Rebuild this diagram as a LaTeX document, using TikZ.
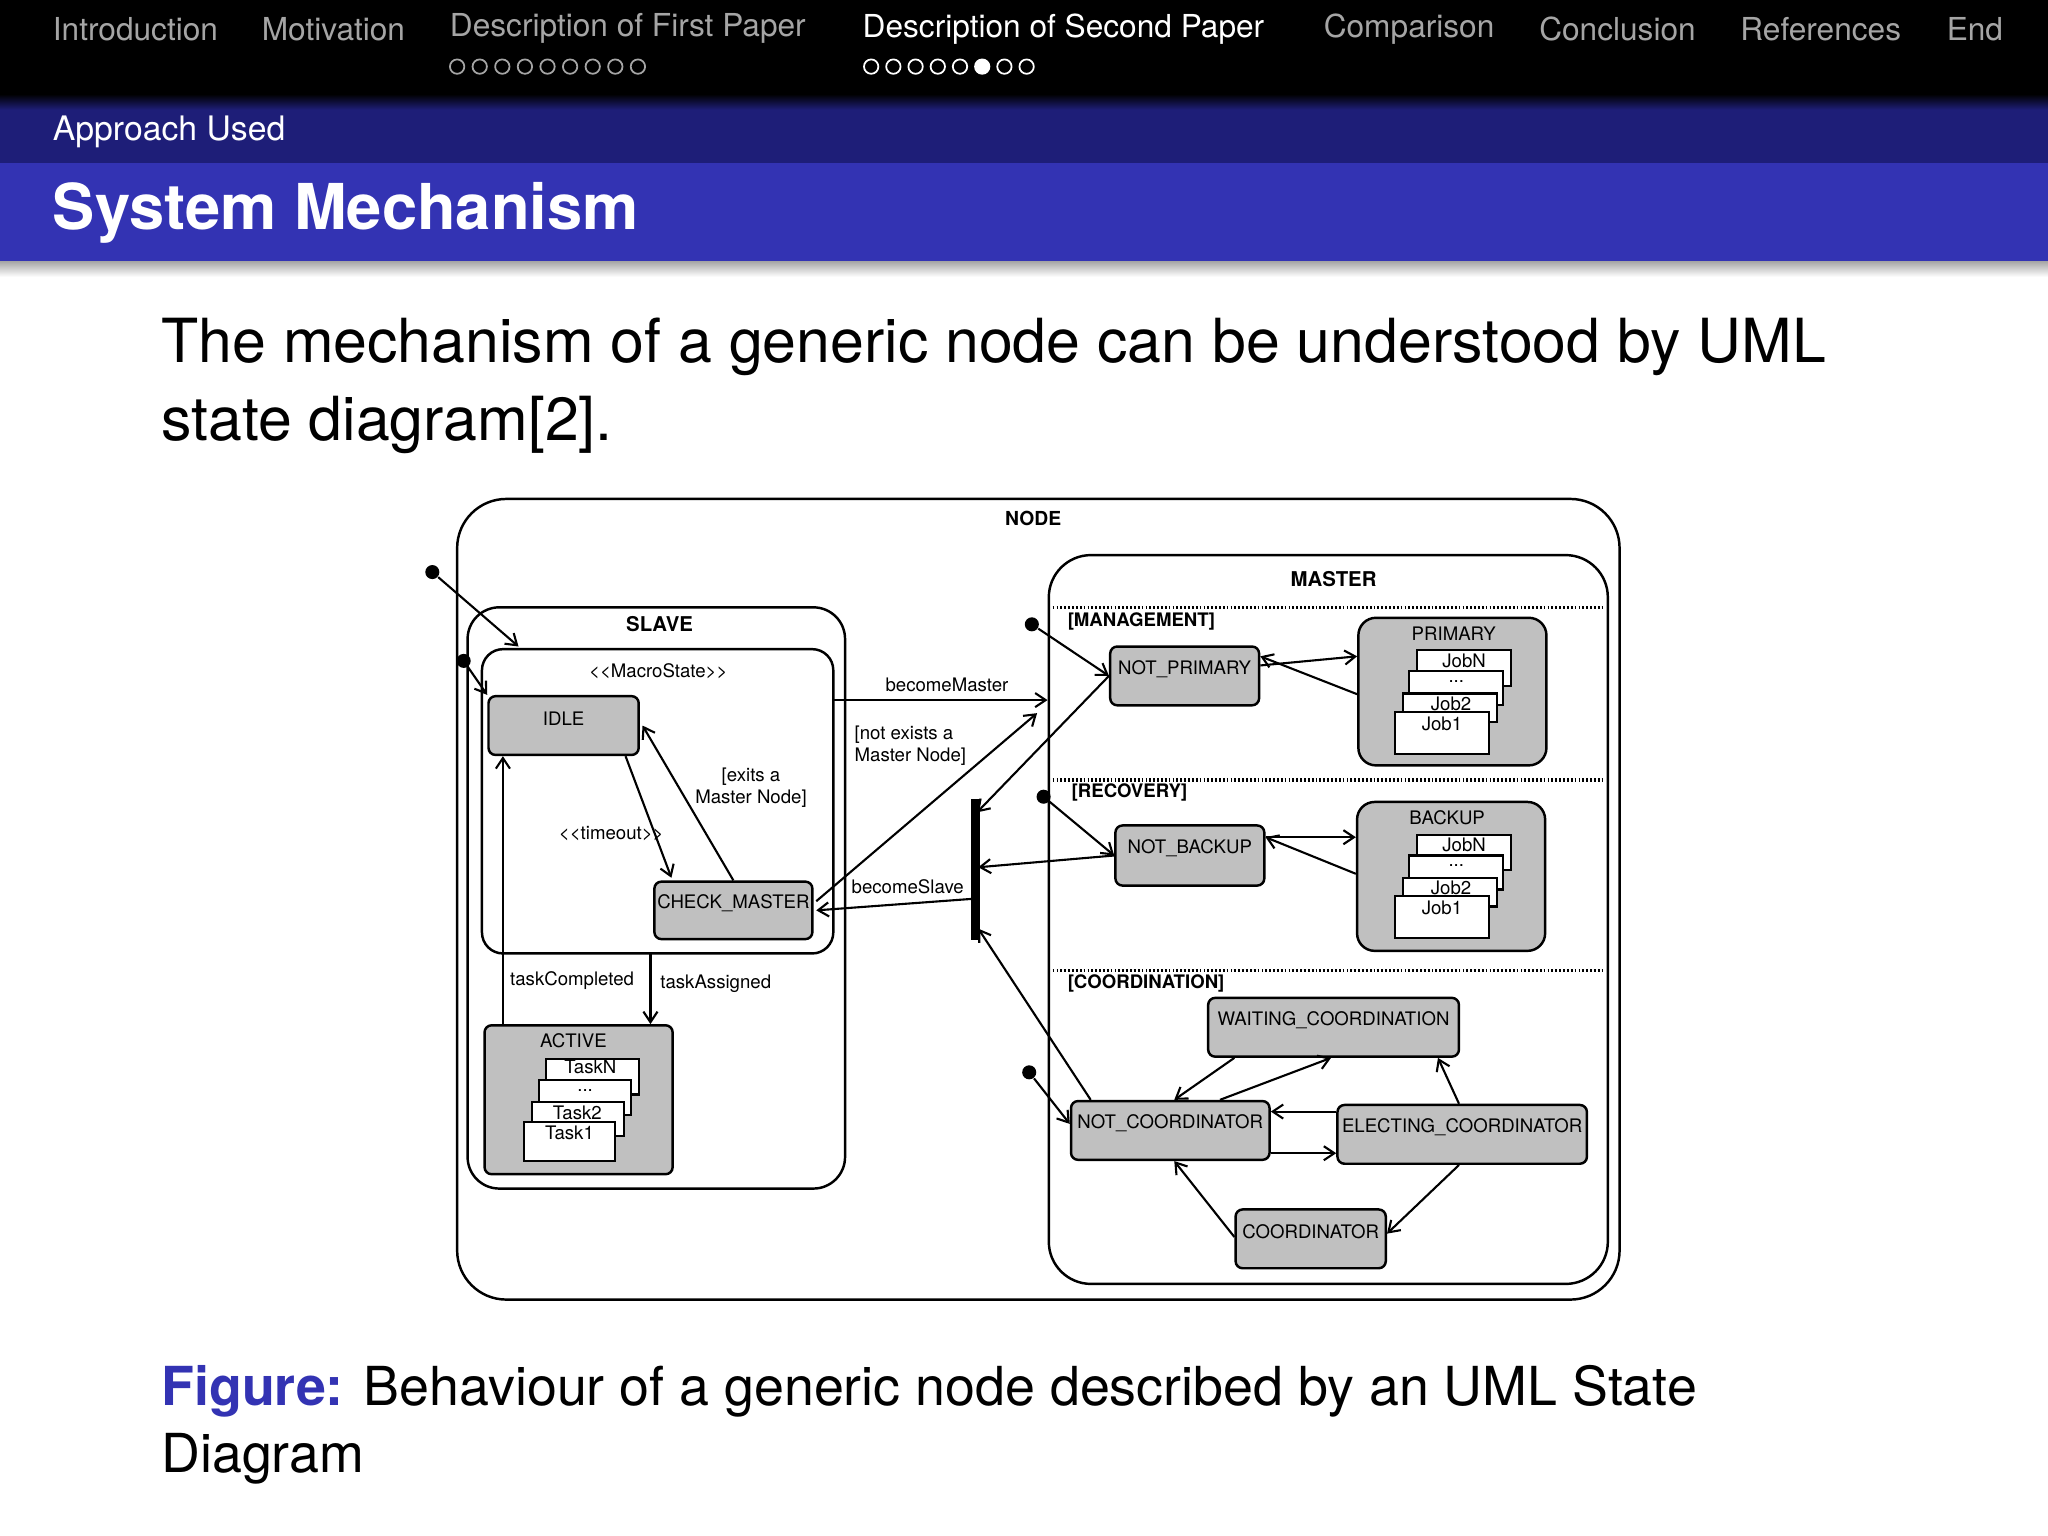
\documentclass[tikz,border=0pt]{standalone}
\usepackage{fontspec}
\setmainfont{TeX Gyre Heros}
\usetikzlibrary{positioning,calc,fit,arrows.meta,backgrounds}
\definecolor{navgray}{RGB}{165,165,165}
\definecolor{bandblue}{RGB}{51,51,179}
\definecolor{darkband}{RGB}{30,30,120}
\definecolor{stategray}{RGB}{192,192,192}
\tikzset{x=0.013061cm, y=-0.013061cm}
\tikzset{dg/.style={font=\fontsize{5.3}{6.3}\selectfont}}
\tikzset{st/.style={dg,draw,fill=stategray,rounded corners=2pt,line width=0.7pt,inner sep=0pt}}
\tikzset{jb/.style={draw,fill=white,line width=0.6pt,inner sep=0pt}}
\tikzset{fr/.style={draw,rounded corners=9pt,line width=0.7pt,inner sep=0pt}}
\tikzset{tr/.style={line width=0.6pt,-{Straight Barb[length=3pt,width=4pt]}}}
\tikzset{dot/.style={circle,fill=black,inner sep=0pt,minimum size=4pt}}
\tikzset{sep/.style={line width=1pt,dash pattern=on 0.5pt off 0.6pt}}
\tikzset{nav/.style={anchor=west,text=navgray,font=\fontsize{9}{10}\selectfont}}
\begin{document}
\begin{tikzpicture}
\useasboundingbox (0,0) rectangle (1568,1176);
% header
\fill[black] (0,0) rectangle (1568,78);
\shade[top color=black,bottom color=darkband] (0,72) rectangle (1568,84);
\fill[darkband] (0,84) rectangle (1568,125);
\fill[bandblue] (0,125) rectangle (1568,200);
\shade[top color=black!35,bottom color=white] (0,200) rectangle (1568,212);
\node[nav] (n1) at (31,22) {Introduction};
\node[nav] (n2) at (191,22) {Motivation};
\node[nav] (n3) at (335,22) {Description of First Paper};
\node[nav,text=white] (n4) at (651,22) {Description of Second Paper};
\node[nav] (n5) at (1004,22) {Comparison};
\node[nav] (n6) at (1169,22) {Conclusion};
\node[nav] (n7) at (1323,22) {References};
\node[nav] (n8) at (1481,22) {End};
\foreach \i in {0,...,8} \draw[navgray,line width=0.5pt] (350+\i*17.3,51) circle (5.5);
\foreach \i in {0,...,7} \draw[white,line width=0.5pt] (667+\i*17,51) circle (5.5);
\fill[white] (752,51) circle (5.5);
\node[anchor=west,text=white,font=\fontsize{9.6}{11}\selectfont] (sec) at (31,101) {Approach Used};
\node[anchor=west,text=white,font=\fontsize{18}{20}\bfseries] (ttl) at (31,163) {System Mechanism};
\node[anchor=north west,align=left,font=\fontsize{17.3}{22.3}\selectfont,inner sep=0pt] (body) at (123,243)
  {The mechanism of a generic node can be understood by UML\\state diagram[2].};
\node[anchor=north west,align=left,font=\fontsize{15.3}{19}\selectfont,inner sep=0pt] (cap) at (123,1045)
  {\textcolor{bandblue}{\bfseries Figure:} Behaviour of a generic node described by an UML State\\Diagram};
% diagram frames
\node[fr,rounded corners=14pt,fit={(350,382)(1240,995)}] (node) {};
\node[dg,font=\fontsize{5.5}{6}\bfseries] (nodet) at (791,397) {NODE};
\node[fr,fit={(358,465)(647,910)}] (slave) {};
\node[dg,font=\fontsize{5.8}{6}\bfseries] (slavet) at (505,478) {SLAVE};
\node[fr,rounded corners=6pt,fit={(369,497)(638,730)}] (macro) {};
\node[dg] (macrot) at (504,514) {<{}<MacroState>{}>};
\node[fr,rounded corners=12pt,fit={(803,425)(1231,983)}] (master) {};
\node[dg,font=\fontsize{5.8}{6}\bfseries] (mastert) at (1021,443) {MASTER};
\draw[sep] (806,465) -- (1229,465);
\draw[sep] (806,597) -- (1229,597);
\draw[sep] (806,743) -- (1229,743);
\node[dg,anchor=west,font=\fontsize{5.3}{6}\bfseries] (mgmt) at (808,476) {[MANAGEMENT]};
\node[dg,anchor=west,font=\fontsize{5.3}{6}\bfseries] (reco) at (811,607) {[RECOVERY]};
\node[dg,anchor=west,font=\fontsize{5.3}{6}\bfseries] (coord) at (808,753) {[COORDINATION]};
% slave states
\node[st,fit={(374,533)(489,578)}] (idle) {IDLE};
\node[st,fit={(501,675)(622,719)}] (check) {CHECK\_MASTER};
\node[st,fit={(371,785)(515,899)}] (active) {};
\node[dg] (activet) at (439,797) {ACTIVE};
\node[jb,fit={(418,811)(489,838)}] (taskn) {};
\node[dg] at (452,817) {TaskN};
\node[jb,fit={(413,827)(483,854)}] (taskd) {};
\node[dg] at (448,835) {...};
\node[jb,fit={(407,844)(478,870)}] (task2) {};
\node[dg] at (442,852) {Task2};
\node[jb,fit={(401,859)(471,889)}] (task1) {};
\node[dg] at (436,867) {Task1};
% master states
\node[st,fit={(850,495)(964,540)}] (np) {NOT\_PRIMARY};
\node[st,rounded corners=5pt,fit={(1040,473)(1184,586)}] (prim) {};
\node[dg] (primt) at (1113,485) {PRIMARY};
\node[st,rounded corners=5pt,fit={(1039,614)(1183,728)}] (back) {};
\node[dg] (backt) at (1108,626) {BACKUP};
\foreach \o/\nm in {0/p,141/b} {
  \node[jb,fit={(1085,498+\o)(1157,525+\o)}] (jn\nm) {};
  \node[dg] at (1121,506+\o) {JobN};
  \node[jb,fit={(1079,514+\o)(1151,540+\o)}] (jd\nm) {};
  \node[dg] at (1115,522+\o) {...};
  \node[jb,fit={(1074,531+\o)(1146,553+\o)}] (j2\nm) {};
  \node[dg] at (1111,539+\o) {Job2};
  \node[jb,fit={(1068,545+\o)(1140,577+\o)}] (j1\nm) {};
  \node[dg] at (1104,554+\o) {Job1};
}
\node[st,fit={(854,632)(968,678)}] (nb) {NOT\_BACKUP};
\node[st,fit={(925,764)(1117,809)}] (wait) {WAITING\_COORDINATION};
\node[st,fit={(820,843)(972,888)}] (nc) {NOT\_COORDINATOR};
\node[st,fit={(1024,846)(1215,891)}] (elect) {ELECTING\_COORDINATOR};
\node[st,fit={(946,926)(1061,971)}] (coor) {COORDINATOR};
% fork bar
\coordinate (ft) at (747,612);
\coordinate (fb) at (747,720);
\draw[line width=2.5pt] (ft) -- (fb);
% initial states
\node[dot] (i0) at (331,438) {};
\node[dot] (i1) at (355,506) {};
\node[dot] (i2) at (790,478) {};
\node[dot] (i3) at (799,610) {};
\node[dot] (i4) at (788,821) {};
\coordinate (slavein) at (397,495);
\draw[tr] (i0) -- (slavein);
\draw[tr] (i1) -- (idle.north west);
\draw[tr] (i2) -- (np.west);
\draw[tr] (i3) -- (nb.west);
\draw[tr] (i4) -- ($(nc.west)+(0,-5)$);
% slave transitions
\draw[tr] ($(idle.south east)+(-11,0)$) -- ($(check.north west)+(14,-2)$);
\node[dg] (tmo) at (468,638) {<{}<timeout>{}>};
\draw[tr] (check.north) -- ($(idle.east)+(2,0)$);
\node[dg,align=center] (exm) at (575,603) {[exits a\\Master Node]};
\draw[tr] ($(active.north west)+(15,0)$) -- ($(idle.south west)+(12,0)$);
\node[dg] (tc) at (438,751) {taskCompleted};
\coordinate (mb) at (498,730);
\draw[tr] (mb) -- (mb |- active.north);
\node[dg] (ta) at (548,753) {taskAssigned};
\coordinate (mr) at (638,536);
\draw[tr] (mr) -- (mr -| master.west);
\node[dg] (bm) at (725,524) {becomeMaster};
\coordinate (mm) at (794,546);
\draw[tr] ($(check.east)+(2,-7)$) -- (mm);
\node[dg,align=left] (nem) at (697,571) {[not exists a\\Master Node]};
\draw[tr] (747,688) -- ($(check.east)+(2,0)$);
\node[dg] (bs) at (695,679) {becomeSlave};
% master transitions
\draw[tr] (np.west) -- (748,622);
\draw[tr] (nb.west) -- (749,664);
\draw[tr] ($(nc.north west)+(16,0)$) -- (749,711);
\draw[tr] ($(np.east)+(0,-8)$) -- ($(prim.west)+(0,-27)$);
\draw[tr] ($(prim.west)+(0,2)$) -- ($(np.east)+(0,-15)$);
\draw[tr] ($(nb.east)+(0,-14)$) -- ($(back.west)+(0,-30)$);
\draw[tr] ($(back.west)+(0,-2)$) -- ($(nb.east)+(0,-14)$);
\draw[tr] ($(wait.south west)+(21,0)$) -- ($(nc.north west)+(80,0)$);
\draw[tr] ($(nc.north west)+(115,0)$) -- ($(wait.south west)+(95,0)$);
\draw[tr] ($(elect.north west)+(0,6)$) -- ($(nc.north east)+(0,9)$);
\draw[tr] ($(nc.south east)+(0,-6)$) -- ($(elect.south west)+(0,-9)$);
\draw[tr] ($(elect.north west)+(94,0)$) -- ($(wait.south east)+(-17,0)$);
\draw[tr] ($(elect.south west)+(94,0)$) -- ($(coor.east)+(0,-4)$);
\draw[tr] ($(coor.north west)+(0,22)$) -- ($(nc.south west)+(80,0)$);
\end{tikzpicture}
\end{document}
